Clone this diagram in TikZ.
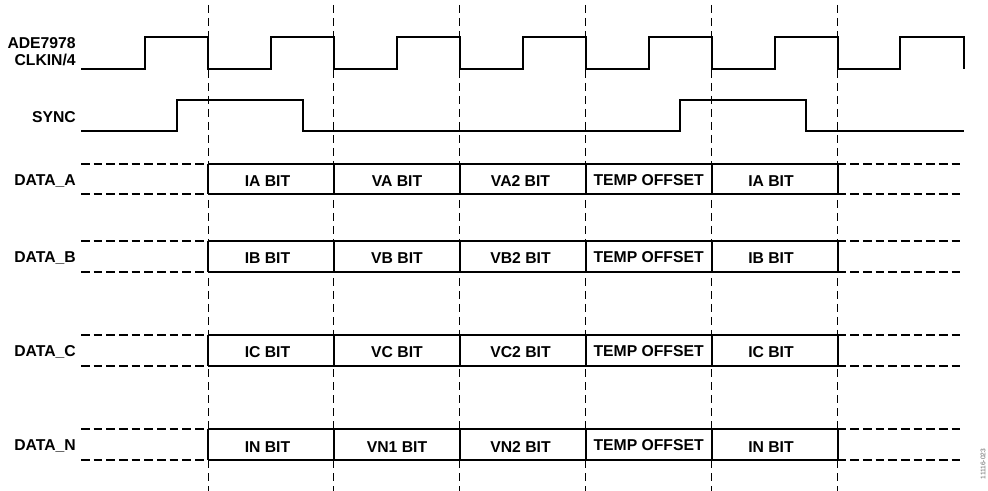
\documentclass[tikz,border=0pt]{standalone}
\usepackage{fontspec}
\setmainfont{Liberation Sans}
\usetikzlibrary{positioning}

\begin{document}
\begin{tikzpicture}[
  x=0.75pt, y=-0.75pt,
  sig/.style={line width=1.5pt, line join=miter},
  idle/.style={line width=1.5pt, dash pattern=on 6.5pt off 3pt},
  grid/.style={line width=0.75pt, dash pattern=on 6pt off 3.75pt},
  lbl/.style={font=\bfseries\fontsize{11.8}{13}\selectfont,
    anchor=base east, align=right, inner sep=0pt},
  bit/.style={font=\bfseries\fontsize{11.8}{11.8}\selectfont,
    anchor=base, inner sep=0pt},
  tag/.style={font=\fontsize{5}{5}\selectfont, text=black!60,
    rotate=90, inner sep=0pt}
]
  \useasboundingbox (0,0) rectangle (988,491);

  % Sample edges: dashed guides
  \foreach \k in {0,...,5}
    \draw[grid] ({208+125.9*\k},5) -- ({208+125.9*\k},491);

  % Clock
  \node[lbl] (clk) at (76,65.5) {ADE7978\\CLKIN/4};
  \draw[sig] (81,69)
    \foreach \k in {0,...,5} {
      -- ({145.05+125.9*\k},69) -- ({145.05+125.9*\k},37)
      -- ({208+125.9*\k},37) -- ({208+125.9*\k},69) }
    -- (900.4,69) -- (900.4,37) -- (964,37) -- (964,69);

  % SYNC
  \node[lbl] (sync) at (76,122.7) {SYNC};
  \draw[sig] (81,131) -- (176.5,131) -- (176.5,100) -- (302.6,100)
    -- (302.6,131) -- (680,131) -- (680,100) -- (806,100)
    -- (806,131) -- (964,131);

  % Data lanes
  \foreach \n/\t/\b/\ia/\va/\vb in {A/164/194/IA/VA/VA2,
      B/241/272/IB/VB/VB2, C/335/366/IC/VC/VC2, N/429/460/IN/VN1/VN2} {
    \node[lbl] (data\n) at (76,\t+21.5) {DATA\_\n};
    \draw[idle] (81,\t) -- (208,\t) (81,\b) -- (208,\b);
    \draw[idle] (837.5,\t) -- (964,\t) (837.5,\b) -- (964,\b);
    \draw[sig] (208,\t) -- (837.5,\t) (208,\b) -- (837.5,\b);
    \foreach \k in {0,...,5}
      \draw[sig] ({208+125.9*\k},\t) -- ({208+125.9*\k},\b);
    \node[bit] (i\n) at (267.5,\t+23) {\ia{} BIT};
    \node[bit] (v\n) at (397,\t+23) {\va{} BIT};
    \node[bit] (w\n) at (520.5,\t+23) {\vb{} BIT};
    \node[bit] (t\n) at (648.6,\t+21.5) {TEMP OFFSET};
    \node[bit] (j\n) at (771,\t+23) {\ia{} BIT};
  }

  \node[tag] (fig) at (983,464) {11116-023};
\end{tikzpicture}
\end{document}
